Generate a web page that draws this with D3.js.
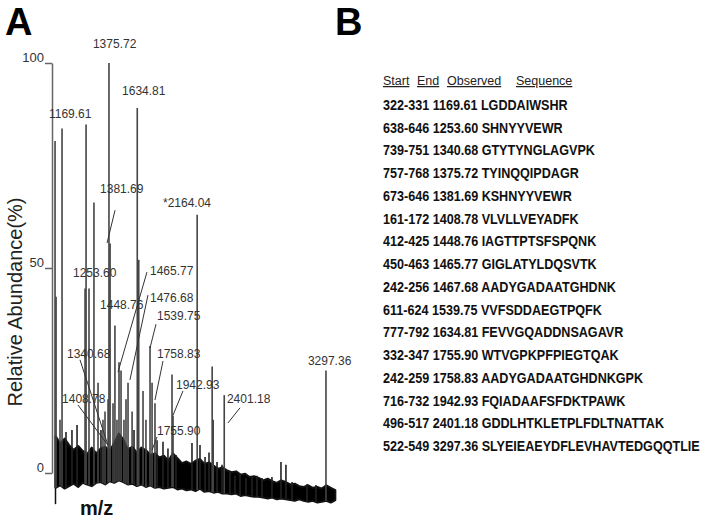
<!DOCTYPE html>
<html>
<head>
<meta charset="utf-8">
<script src="https://cdnjs.cloudflare.com/ajax/libs/d3/7.8.5/d3.min.js"></script>
<style>
    body { margin: 0; background: #fff; }
    text { font-family: "Liberation Sans", Arial, sans-serif; }
</style>
</head>
<body>
<div id="chart"></div>
<script>
// peaks (m/z, relative abundance %)
const peakMz = [895, 904, 939, 957, 992, 1045, 1090, 1161, 1170, 1196, 1240, 1276, 1302, 1320, 1338, 1365,
    1373, 1383, 1409, 1426, 1444, 1462, 1480, 1506, 1524, 1542, 1578, 1595, 1624, 1637, 1675, 1701,
    1737, 1755, 1781, 1799, 1852, 1896, 1932, 1941, 1967, 2109, 2155, 2180, 2225, 2260, 2288, 2297,
    2331, 2375, 2395, 2446, 2490, 2535, 2588, 2641, 2685, 2730, 2818, 2898, 2942, 2996, 3129, 3208, 3297];
const peakAbundance = [81, 43, 13, 84, 10, 10.5, 11.7, 45, 85, 45, 66, 22, 10.5, 13, 15, 18,
    100, 56, 17, 36, 13, 27, 25, 13, 18, 22, 15, 10.5, 89, 52, 20, 13,
    31, 22, 17, 8, 7.6, 6, 24, 14, 4.4, 7.3, 63, 6.8, 3.9, 5, 26, 13,
    2.7, 2, 19, 0.2, -0.7, -0.2, -1.2, -1, -0.7, -1.2, -1, 2.7, 2, -2.2, -2.7, -2.9, 25];

// downward spike at the start of the trace
const dipMz = [899];
const dipAbundance = [-7.6];

// noise band envelope
const noiseMz = [900, 940, 980, 1020, 1060, 1100, 1140, 1180, 1220, 1260, 1300, 1340, 1380, 1420, 1460, 1500,
    1540, 1580, 1620, 1660, 1700, 1740, 1780, 1820, 1860, 1900, 1940, 1980, 2020, 2060, 2100, 2140,
    2180, 2220, 2260, 2300, 2340, 2380, 2420, 2460, 2500, 2540, 2580, 2620, 2660, 2700, 2740, 2780,
    2820, 2860, 2900, 2940, 2980, 3020, 3060, 3100, 3140, 3180, 3220, 3260, 3300, 3340, 3380];
const noiseHigh = [9.0, 7.2, 8.4, 6.8, 5.6, 6.6, 5.4, 4.6, 6.2, 4.8, 6.0, 6.4, 5.4, 7.4, 9.6, 8.2,
    5.8, 6.4, 5.0, 6.2, 5.6, 4.4, 4.8, 3.8, 4.2, 3.0, 4.8, 3.6, 2.4, 2.8, 2.2, 3.0,
    3.4, 2.2, 2.6, 1.8, 1.0, 1.4, 0.6, 0.2, 0.4, -0.4, -0.2, -1.0, -0.8, -1.2, -1.8, -1.4,
    -2.0, -2.4, -1.8, -2.2, -2.8, -2.6, -3.2, -3.4, -3.0, -3.6, -3.4, -3.8, -3.0, -3.6, -4.2];
const noiseLow = [-3.6, -3.0, -3.8, -3.2, -2.6, -3.4, -2.4, -2.8, -3.2, -2.4, -2.2, -2.8, -2.0, -2.4, -1.8, -2.2,
    -2.8, -2.6, -3.2, -2.8, -3.4, -3.0, -3.6, -3.4, -3.8, -3.6, -3.4, -4.0, -3.8, -4.2, -4.0, -4.4,
    -3.8, -4.6, -4.4, -4.8, -4.6, -5.0, -5.0, -5.2, -5.0, -5.6, -5.4, -5.6, -5.8, -5.8, -6.0, -6.2,
    -6.0, -6.4, -6.2, -6.4, -6.6, -6.8, -6.4, -6.8, -7.0, -6.8, -7.2, -7.0, -6.8, -7.2, -6.6];

const yTicks = [0, 50, 100];

// peak annotations: text sits at (labelMz, labelAb), optional leader line in data units
const labelText = ["1375.72", "1634.81", "1169.61", "1381.69", "*2164.04", "1253.60", "1465.77", "1476.68",
    "1448.76", "1539.75", "1758.83", "1340.68", "1408.78", "1942.93", "1755.90", "2401.18", "3297.36"];
const labelMz = [1231, 1489, 841, 1294, 1852, 1054, 1737, 1737, 1294, 1799, 1799, 1001, 957, 1967, 1799, 2419, 3137];
const labelAb = [103.7, 92.2, 86.6, 68.3, 64.9, 47.8, 48.3, 41.7, 40.0, 37.3, 28.0, 28.0, 17.1, 20.5, 9.3, 17.1, 26.3];
const leaders = [null, null, null, [1427, 64.1, 1356, 56.1], null, null, [1710, 49.0, 1453, 24.6],
    [1719, 43.4, 1559, 22.7], null, [1790, 36.3, 1737, 30.5], [1852, 27.3, 1781, 17.8],
    [1116, 27.6, 1364, 6.8], [1098, 16.6, 1364, 6.8], [2029, 20.0, 1941, 14.1],
    [1799, 8.8, 1755, 5.6], [2535, 15.9, 2428, 12.2], null];

// table B
const tableHeaders = ["Start", "End", "Observed", "Sequence"];
const fragStart = [322, 638, 739, 757, 673, 161, 412, 450, 242, 611, 777, 332, 242, 716, 496, 522];
const fragEnd = [331, 646, 751, 768, 646, 172, 425, 463, 256, 624, 792, 347, 259, 732, 517, 549];
const fragObserved = ["1169.61", "1253.60", "1340.68", "1375.72", "1381.69", "1408.78", "1448.76", "1465.77",
    "1467.68", "1539.75", "1634.81", "1755.90", "1758.83", "1942.93", "2401.18", "3297.36"];
const fragSequence = ["LGDDAIWSHR", "SHNYYVEWR", "GTYTYNGLAGVPK", "TYINQQIPDAGR", "KSHNYYVEWR",
    "VLVLLVEYADFK", "IAGTTPTSFSPQNK", "GIGLATYLDQSVTK", "AADYGADAATGHDNK", "VVFSDDAEGTPQFK",
    "FEVVGQADDNSAGAVR", "WTVGPKPFPIEGTQAK", "AADYGADAATGHDNKGPK", "FQIADAAFSFDKTPAWK",
    "GDDLHTKLETPLFDLTNATTAK", "SLYEIEAEYDFLEVHAVTEDGQQTLIE"];

const width = 708;
const height = 520;

const svg = d3.select("#chart")
    .append("svg")
    .attr("width", width)
    .attr("height", height)
    .style("display", "block");

svg.append("rect").attr("width", width).attr("height", height).attr("fill", "#fff");

const x = d3.scaleLinear().domain([868, 3400]).range([52, 337.6]);
const y = d3.scaleLinear().domain([0, 100]).range([473, 63]);

const lowAt = d3.scaleLinear().domain(noiseMz).range(noiseLow).clamp(true);

// panel letters
svg.append("text").attr("x", 5).attr("y", 35)
    .style("font-size", "38px").style("font-weight", "bold").attr("fill", "#000").text("A");
svg.append("text").attr("x", 335).attr("y", 35)
    .style("font-size", "38px").style("font-weight", "bold").attr("fill", "#000").text("B");

// y axis
const yAxis = svg.append("g")
    .attr("transform", "translate(52,0)")
    .call(d3.axisLeft(y).tickValues(yTicks).tickSize(7).tickSizeOuter(0).tickPadding(1));
yAxis.select(".domain").attr("stroke", "#666").attr("stroke-width", 1.5);
yAxis.selectAll(".tick line").attr("stroke", "#666").attr("stroke-width", 1.5);
yAxis.selectAll(".tick text")
    .attr("dy", "-0.15em")
    .attr("fill", "#333")
    .style("font-size", "13px")
    .style("font-family", "'Liberation Sans', Arial, sans-serif");

svg.append("text")
    .attr("transform", "translate(22,302) rotate(-90)")
    .attr("text-anchor", "middle")
    .style("font-size", "20px")
    .attr("fill", "#222")
    .text("Relative Abundance(%)");

svg.append("text").attr("x", 80).attr("y", 515)
    .style("font-size", "20px").style("font-weight", "bold").attr("fill", "#111").text("m/z");

// noise band
const noiseArea = d3.area()
    .x(i => x(noiseMz[i]))
    .y0(i => y(noiseLow[i]))
    .y1(i => y(noiseHigh[i]));

svg.append("path")
    .attr("d", noiseArea(d3.range(noiseMz.length)))
    .attr("fill", "#000")
    .attr("stroke", "#111")
    .attr("stroke-width", 2)
    .attr("stroke-linejoin", "round");

svg.append("g").selectAll("line")
    .data(dipMz)
    .enter().append("line")
    .attr("x1", d => x(d)).attr("x2", d => x(d))
    .attr("y1", y(0))
    .attr("y2", (d, i) => y(dipAbundance[i]))
    .attr("stroke", "#111").attr("stroke-width", 1.5);

// peak sticks
svg.append("g").selectAll("line")
    .data(peakMz)
    .enter().append("line")
    .attr("x1", d => x(d)).attr("x2", d => x(d))
    .attr("y1", d => y(lowAt(d)))
    .attr("y2", (d, i) => y(peakAbundance[i]))
    .attr("stroke", (d, i) => peakAbundance[i] > 12 ? "#444" : "#222")
    .attr("stroke-width", 1.6);

// leader lines
svg.append("g").selectAll("line")
    .data(leaders.filter(d => d))
    .enter().append("line")
    .attr("x1", d => x(d[0])).attr("y1", d => y(d[1]))
    .attr("x2", d => x(d[2])).attr("y2", d => y(d[3]))
    .attr("stroke", "#333").attr("stroke-width", 1);

// peak labels
svg.append("g").selectAll("text")
    .data(labelText)
    .enter().append("text")
    .attr("x", (d, i) => x(labelMz[i]))
    .attr("y", (d, i) => y(labelAb[i]))
    .style("font-size", "12px")
    .attr("fill", "#333")
    .text(d => d);

// table
const headerX = [383, 417, 447, 516];
svg.append("g").selectAll("text")
    .data(tableHeaders)
    .enter().append("text")
    .attr("x", (d, i) => headerX[i])
    .attr("y", 85)
    .style("font-size", "12.5px")
    .style("text-decoration", "underline")
    .attr("fill", "#222")
    .text(d => d);

const rowY = d3.scaleLinear().domain([0, fragStart.length - 1]).range([110, 451]);

svg.append("g").selectAll("text")
    .data(fragStart)
    .enter().append("text")
    .attr("transform", (d, i) => `translate(383,${rowY(i)}) scale(0.9,1)`)
    .style("font-size", "14px")
    .style("font-weight", "bold")
    .attr("fill", "#111")
    .text((d, i) => `${d}-${fragEnd[i]} ${fragObserved[i]} ${fragSequence[i]}`);
</script>
</body>
</html>
